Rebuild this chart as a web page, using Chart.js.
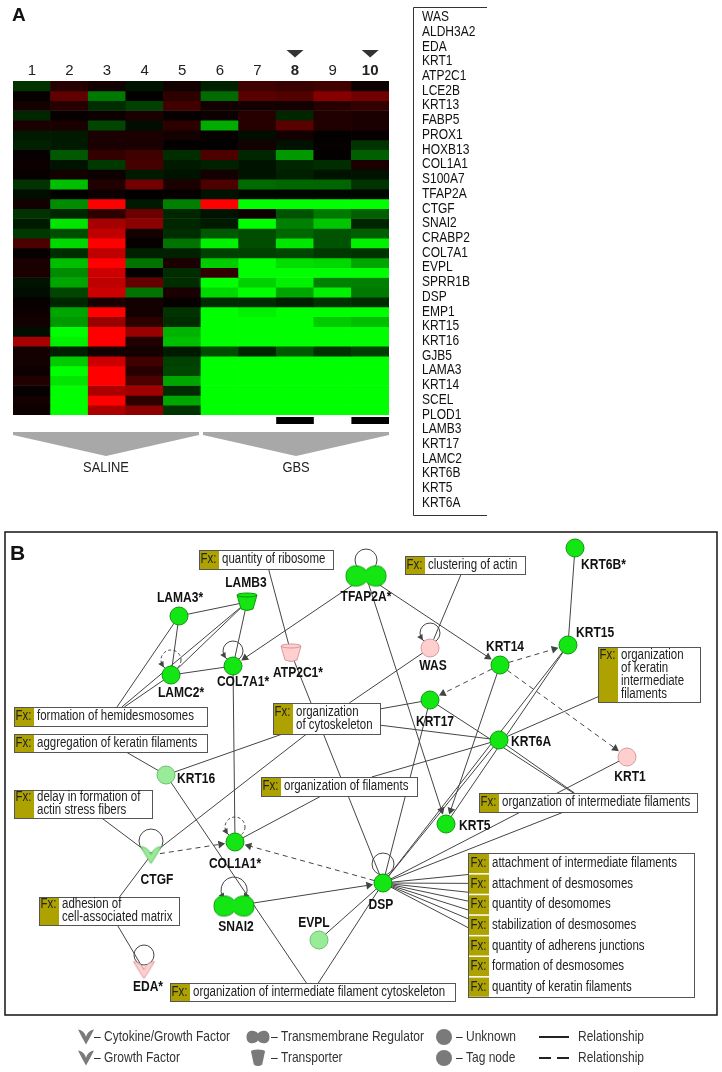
<!DOCTYPE html>
<html>
<head>
<meta charset="utf-8">
<script src="https://cdn.jsdelivr.net/npm/chart.js@4.4.1/dist/chart.umd.min.js"></script>
<style>
  html, body { margin: 0; padding: 0; background: #fff; }
  #wrap { position: relative; width: 722px; height: 1072px; overflow: hidden; }
  canvas { position: absolute; left: 0; }
  #heat { top: 0; width: 722px; height: 525px; }
  #net { top: 525px; width: 722px; height: 547px; }
</style>
</head>
<body>
<div id="wrap">
  <canvas id="heat" width="722" height="525"></canvas>
  <canvas id="net" width="722" height="547"></canvas>
</div>
<script>
// ---------- panel A data ----------
const genes = ['WAS', 'ALDH3A2', 'EDA', 'KRT1', 'ATP2C1', 'LCE2B', 'KRT13', 'FABP5', 'PROX1', 'HOXB13',
  'COL1A1', 'S100A7', 'TFAP2A', 'CTGF', 'SNAI2', 'CRABP2', 'COL7A1', 'EVPL', 'SPRR1B', 'DSP', 'EMP1',
  'KRT15', 'KRT16', 'GJB5', 'LAMA3', 'KRT14', 'SCEL', 'PLOD1', 'LAMB3', 'KRT17', 'LAMC2', 'KRT6B',
  'KRT5', 'KRT6A'];
const samples = ['1', '2', '3', '4', '5', '6', '7', '8', '9', '10'];
const markedSamples = ['8', '10'];
const groups = [['SALINE', 1, 5], ['GBS', 6, 10]];
// log ratio per gene (row) and sample (column); red > 0, green < 0
const expression = [
  [-0.4, 0.3, 0.15, -0.15, 0.15, -0.25, 0.5, 0.45, 0.5, 0.1],
  [0.05, 0.75, -0.95, 0.02, 0.35, -0.85, 0.7, 0.65, 1.05, 0.9],
  [0.15, 0.3, -0.35, -0.5, 0.5, 0.15, 0.15, 0.15, 0.3, 0.4],
  [-0.3, 0.05, 0.1, 0.2, 0.05, 0.1, 0.3, -0.3, 0.25, 0.2],
  [0.2, 0.2, -0.55, -0.1, 0.35, -1.35, 0.3, 0.7, 0.25, 0.2],
  [-0.2, -0.2, 0.2, 0.2, 0.15, 0.05, -0.1, 0.15, 0.02, 0.05],
  [-0.25, -0.2, 0.2, 0.2, 0.02, 0.02, 0.15, -0.15, 0.05, -0.4],
  [0.05, -0.7, 0.4, 0.5, -0.35, 0.6, -0.3, -1.2, 0.02, -0.75],
  [0.1, -0.15, -0.45, 0.55, -0.2, -0.25, -0.15, -0.3, -0.35, 0.2],
  [0.05, 0.15, 0.1, -0.2, -0.15, 0.15, -0.15, -0.25, -0.15, -0.15],
  [-0.4, -1.5, 0.25, 0.9, 0.2, 0.6, -0.85, -0.8, -0.8, -0.4],
  [-0.1, 0.02, 0.1, 0.02, 0.05, -0.15, -0.05, -0.05, -0.05, -0.05],
  [0.15, -1.1, 2.0, -0.2, -1.0, 2.0, -2.0, -2.0, -2.0, -2.0],
  [-0.4, -0.3, 0.35, 0.85, -0.3, -0.15, 0.1, -0.65, -0.95, -0.75],
  [-0.2, -1.8, 1.3, 1.1, -0.3, -0.2, -2.0, -1.0, -1.55, -0.3],
  [-0.45, -0.6, 1.5, 0.15, -0.35, -0.7, -0.6, -0.8, -0.65, -0.75],
  [0.6, -1.7, 2.0, 0.05, -0.9, -1.9, -0.6, -1.8, -0.65, -1.9],
  [0.05, -0.35, 1.5, -0.25, -0.25, -0.5, -0.5, -0.55, -0.45, -0.4],
  [0.2, -1.5, 2.0, -0.9, 0.2, -1.6, -2.0, -1.75, -1.7, -1.3],
  [0.2, -1.1, 1.6, 0.05, -0.35, 0.4, -2.0, -2.0, -2.0, -2.0],
  [-0.15, -1.3, 1.5, 0.8, -0.35, -2.0, -1.65, -1.9, -1.0, -1.0],
  [-0.1, -0.55, 1.6, -0.9, 0.2, -1.7, -2.0, -1.3, -1.9, -0.95],
  [0.05, -0.3, 0.2, 0.15, 0.05, -0.35, -0.35, -0.25, -0.4, -0.35],
  [0.1, -1.3, 2.0, 0.15, -0.4, -2.0, -1.9, -2.0, -2.0, -2.0],
  [0.15, -1.2, 1.2, 0.35, -0.35, -2.0, -2.0, -2.0, -1.6, -1.5],
  [-0.1, -2.0, 2.0, 1.2, -1.4, -2.0, -2.0, -2.0, -2.0, -2.0],
  [1.3, -1.9, 2.0, 0.25, -1.5, -2.0, -2.0, -2.0, -2.0, -2.0],
  [0.15, -0.25, 0.15, 0.15, -0.2, -0.6, -0.3, -0.7, -0.4, -0.5],
  [0.15, -1.6, 1.6, 0.5, -0.5, -2.0, -2.0, -2.0, -2.0, -2.0],
  [0.1, -2.0, 2.0, 0.3, -0.55, -2.0, -2.0, -2.0, -2.0, -2.0],
  [0.25, -1.8, 2.0, 0.6, -1.3, -2.0, -2.0, -2.0, -2.0, -2.0],
  [0.05, -2.0, 1.35, 1.25, -0.35, -2.0, -2.0, -2.0, -2.0, -2.0],
  [0.15, -2.0, 2.0, 0.35, -1.3, -2.0, -2.0, -2.0, -2.0, -2.0],
  [0.1, -2.0, 1.35, 1.1, -0.4, -2.0, -2.0, -2.0, -2.0, -2.0]
];

// ---------- panel B data ----------
// id, label, x, y, shape, tone
const nodes = [
  ['TFAP2A', 'TFAP2A*', 366, 576, 'membrane', 'green'],
  ['LAMB3', 'LAMB3', 247, 602, 'transporter', 'green'],
  ['LAMA3', 'LAMA3*', 179, 616, 'unknown', 'green'],
  ['KRT6B', 'KRT6B*', 575, 548, 'unknown', 'green'],
  ['KRT15', 'KRT15', 568, 645, 'unknown', 'green'],
  ['KRT14', 'KRT14', 500, 665, 'unknown', 'green'],
  ['WAS', 'WAS', 430, 648, 'unknown', 'pink'],
  ['ATP2C1', 'ATP2C1*', 291, 653, 'transporter', 'pink'],
  ['COL7A1', 'COL7A1*', 233, 666, 'unknown', 'green'],
  ['LAMC2', 'LAMC2*', 171, 675, 'unknown', 'green'],
  ['KRT17', 'KRT17', 430, 700, 'unknown', 'green'],
  ['KRT6A', 'KRT6A', 499, 740, 'unknown', 'green'],
  ['KRT1', 'KRT1', 627, 757, 'unknown', 'pink'],
  ['KRT16', 'KRT16', 166, 775, 'unknown', 'pale'],
  ['KRT5', 'KRT5', 446, 824, 'unknown', 'green'],
  ['COL1A1', 'COL1A1*', 235, 842, 'unknown', 'green'],
  ['CTGF', 'CTGF', 151, 855, 'growth', 'pale'],
  ['DSP', 'DSP', 383, 883, 'unknown', 'green'],
  ['SNAI2', 'SNAI2', 234, 906, 'membrane', 'green'],
  ['EVPL', 'EVPL', 319, 940, 'unknown', 'pale'],
  ['EDA', 'EDA*', 144, 970, 'growth', 'pink']
];
// id, text lines, x, y, w, h
const fxBoxes = [
  ['ribosome', ['quantity of ribosome'], 199, 550, 134, 19],
  ['actin', ['clustering of actin'], 405, 556, 120, 18],
  ['keratinIF', ['organization', 'of keratin', 'intermediate', 'filaments'], 598, 647, 102, 55],
  ['hemi', ['formation of hemidesmosomes'], 14, 707, 193, 19],
  ['cyto', ['organization', 'of cytoskeleton'], 273, 703, 107, 31],
  ['aggr', ['aggregation of keratin filaments'], 14, 734, 193, 18],
  ['filaments', ['organization of filaments'], 261, 777, 156, 19],
  ['intfil', ['organzation of intermediate filaments'], 479, 793, 218, 19],
  ['delay', ['delay in formation of', 'actin stress fibers'], 14, 790, 138, 28],
  ['adhesion', ['adhesion of', 'cell-associated matrix'], 39, 897, 140, 28],
  ['ifcyto', ['organization of intermediate filament cytoskeleton'], 170, 983, 285, 18]
];
const dspFunctions = ['attachment of intermediate filaments', 'attachment of desmosomes',
  'quantity of desomomes', 'stabilization of desmosomes', 'quantity of adherens junctions',
  'formation of desmosomes', 'quantity of keratin filaments'];
// from, to, dashed, arrow
const edges = [
  ['LAMA3', 'LAMB3'], ['LAMA3', 'LAMC2'], ['LAMA3', 'hemi'], ['LAMB3', 'LAMC2'], ['LAMB3', 'COL7A1'],
  ['LAMB3', 'hemi'], ['LAMC2', 'COL7A1'], ['LAMC2', 'hemi'], ['COL7A1', 'COL1A1'],
  ['TFAP2A', 'COL7A1', 0, 1], ['TFAP2A', 'KRT14', 0, 1], ['TFAP2A', 'KRT5', 0, 1],
  ['ATP2C1', 'ribosome'], ['ATP2C1', 'DSP'], ['WAS', 'actin'], ['WAS', 'cyto'],
  ['KRT14', 'KRT15', 1, 1], ['KRT14', 'KRT17', 1, 1], ['KRT14', 'KRT1', 1, 1], ['KRT14', 'KRT5', 0, 1],
  ['KRT6B', 'KRT15'], ['KRT15', 'KRT5'], ['KRT15', 'DSP'],
  ['KRT17', 'cyto'], ['KRT17', 'intfil'], ['KRT17', 'DSP'],
  ['KRT6A', 'cyto'], ['KRT6A', 'keratinIF'], ['KRT6A', 'filaments'], ['KRT6A', 'intfil'], ['KRT6A', 'DSP'],
  ['KRT1', 'DSP'], ['intfil', 'DSP'],
  ['KRT16', 'aggr'], ['KRT16', 'cyto'], ['KRT16', 'ifcyto'],
  ['CTGF', 'delay'], ['CTGF', 'cyto'], ['CTGF', 'adhesion'], ['EDA', 'adhesion'],
  ['CTGF', 'COL1A1', 1, 1], ['DSP', 'COL1A1', 1, 1], ['COL1A1', 'filaments'],
  ['SNAI2', 'DSP', 0, 1], ['EVPL', 'DSP'], ['DSP', 'ifcyto']
].concat(dspFunctions.map((f, i) => ['DSP', 'dsp' + i]));
// node, dashed, arrowheads
const loops = [['TFAP2A', 0, 0], ['WAS', 0, 1], ['COL7A1', 0, 1], ['LAMC2', 1, 1], ['COL1A1', 1, 1],
  ['CTGF', 0, 0], ['DSP', 0, 0], ['EDA', 0, 0], ['SNAI2', 0, 2]];
const legendItems = [
  ['growth', '– Cytokine/Growth Factor'], ['growth', '– Growth Factor'],
  ['membrane', '– Transmembrane Regulator'], ['transporter', '– Transporter'],
  ['unknown', '– Unknown'], ['unknown', '– Tag node'],
  ['solid', 'Relationship'], ['dashed', 'Relationship']
];

// ---------- styling / layout ----------
const F = "'Liberation Sans', Arial, sans-serif";
const EDGE = '#444';
const OLIVE = '#ada200';
const tones = {
  green: ['#14e614', '#0a9a0a'],
  pale: ['#98ec98', '#6cbf6c'],
  pink: ['#ffcece', '#d99a9a']
};
const shapeSize = { membrane: [40, 19], transporter: [20, 18], growth: [21, 17] };
const labelPos = {
  TFAP2A: [0, 21, 'center'], LAMB3: [-1, -19, 'center'], LAMA3: [1, -18, 'center'],
  KRT6B: [6, 17, 'left'], KRT15: [8, -12, 'left'], KRT14: [5, -18, 'center'], WAS: [3, 18, 'center'],
  ATP2C1: [7, 20, 'center'], COL7A1: [10, 16, 'center'], LAMC2: [10, 18, 'center'],
  KRT17: [5, 22, 'center'], KRT6A: [12, 2, 'left'], KRT1: [3, 20, 'center'], KRT16: [11, 4, 'left'],
  KRT5: [13, 2, 'left'], COL1A1: [0, 22, 'center'], CTGF: [6, 25, 'center'], DSP: [-2, 22, 'center'],
  SNAI2: [2, 21, 'center'], EVPL: [-5, -17, 'center'], EDA: [4, 17, 'center']
};
const loopLayout = { TFAP2A: [-16, 11], DSP: [-19, 11], SNAI2: [-16, 13], CTGF: [-14, 12] };

function heatColor(v) {
  const k = Math.min(255, Math.round(Math.abs(v) / 2 * 255));
  return v >= 0 ? `rgb(${k},0,0)` : `rgb(0,${k},0)`;
}

// condensed text (the figure uses a narrow face)
function narrowText(ctx, text, x, y, o) {
  o = o || {};
  ctx.save();
  ctx.font = `${o.weight || 'normal'} ${o.size || 14}px ${F}`;
  ctx.fillStyle = o.color || '#222';
  ctx.textBaseline = 'middle';
  ctx.textAlign = 'left';
  const sx = o.sx || 0.82;
  const w = ctx.measureText(text).width * sx;
  let x0 = x;
  if (o.align === 'center') x0 = x - w / 2;
  else if (o.align === 'right') x0 = x - w;
  ctx.translate(x0, y);
  ctx.scale(sx, 1);
  ctx.fillText(text, 0, 0);
  ctx.restore();
}

function shapePath(ctx, shape, cx, cy, w, h) {
  ctx.beginPath();
  if (shape === 'membrane') {
    ctx.moveTo(cx, cy - h * 0.3);
    ctx.bezierCurveTo(cx + w * 0.12, cy - h * 0.62, cx + w * 0.5, cy - h * 0.68, cx + w * 0.5, cy);
    ctx.bezierCurveTo(cx + w * 0.5, cy + h * 0.68, cx + w * 0.12, cy + h * 0.62, cx, cy + h * 0.3);
    ctx.bezierCurveTo(cx - w * 0.12, cy + h * 0.62, cx - w * 0.5, cy + h * 0.68, cx - w * 0.5, cy);
    ctx.bezierCurveTo(cx - w * 0.5, cy - h * 0.68, cx - w * 0.12, cy - h * 0.62, cx, cy - h * 0.3);
  } else if (shape === 'transporter') {
    const t = cy - h / 2, b = cy + h / 2;
    ctx.moveTo(cx - w / 2, t + 2);
    ctx.lineTo(cx + w / 2, t + 2);
    ctx.lineTo(cx + w * 0.3, b - 2);
    ctx.quadraticCurveTo(cx, b + 1, cx - w * 0.3, b - 2);
  } else if (shape === 'growth') {
    ctx.moveTo(cx - w / 2, cy - h / 2);
    ctx.quadraticCurveTo(cx - w * 0.12, cy - h * 0.45, cx, cy - h * 0.02);
    ctx.quadraticCurveTo(cx + w * 0.12, cy - h * 0.45, cx + w / 2, cy - h / 2);
    ctx.quadraticCurveTo(cx + w * 0.22, cy + h * 0.1, cx, cy + h / 2);
    ctx.quadraticCurveTo(cx - w * 0.22, cy + h * 0.1, cx - w / 2, cy - h / 2);
  } else {
    ctx.arc(cx, cy, w / 2, 0, Math.PI * 2);
  }
  ctx.closePath();
}

function drawShape(ctx, shape, cx, cy, w, h, fill, stroke) {
  ctx.save();
  ctx.fillStyle = fill;
  ctx.strokeStyle = stroke;
  ctx.lineWidth = 1;
  shapePath(ctx, shape, cx, cy, w, h);
  ctx.fill();
  if (stroke) ctx.stroke();
  if (shape === 'transporter') {
    ctx.beginPath();
    ctx.ellipse(cx, cy - h / 2 + 2, w / 2, 2, 0, 0, Math.PI * 2);
    ctx.fill();
    if (stroke) ctx.stroke();
  }
  ctx.restore();
}

function iconCanvas(shape, tone) {
  const [w, h] = shapeSize[shape];
  const c = document.createElement('canvas');
  c.width = w + 4; c.height = h + 4;
  drawShape(c.getContext('2d'), shape, c.width / 2, c.height / 2, w, h, tones[tone][0], tones[tone][1]);
  return c;
}

function loopCanvas(r, dashed, arrows) {
  const s = 2 * r + 12, m = s / 2;
  const c = document.createElement('canvas');
  c.width = c.height = s;
  const g = c.getContext('2d');
  g.strokeStyle = EDGE; g.fillStyle = EDGE; g.lineWidth = 1;
  if (dashed) g.setLineDash([3, 2.5]);
  g.beginPath();
  if (arrows === 2) g.arc(m, m, r, Math.PI * 5 / 6, Math.PI / 6);
  else g.arc(m, m, r, 0, Math.PI * 2);
  g.stroke();
  g.setLineDash([]);
  const heads = arrows === 2 ? [150, 30] : arrows === 1 ? [150] : [];
  heads.forEach(deg => {
    const t = deg * Math.PI / 180;
    const px = m + r * Math.cos(t), py = m + r * Math.sin(t);
    const d = deg > 90 ? [Math.sin(t), -Math.cos(t)] : [-Math.sin(t), Math.cos(t)];
    const n = [-d[1], d[0]];
    g.beginPath();
    g.moveTo(px + d[0] * 3, py + d[1] * 3);
    g.lineTo(px - d[0] * 3 + n[0] * 3, py - d[1] * 3 + n[1] * 3);
    g.lineTo(px - d[0] * 3 - n[0] * 3, py - d[1] * 3 - n[1] * 3);
    g.closePath();
    g.fill();
  });
  return c;
}

// ---------- panel A: heatmap ----------
const heatDecor = {
  id: 'heatDecor',
  afterDraw(chart) {
    const ctx = chart.ctx, xs = chart.scales.x, a = chart.chartArea;
    const colW = (a.right - a.left) / samples.length;
    ctx.save();
    ctx.font = `bold 19px ${F}`;
    ctx.fillStyle = '#111';
    ctx.textBaseline = 'middle';
    ctx.fillText('A', 12, 16);
    markedSamples.forEach(s => {
      const cx = xs.getPixelForValue(samples.indexOf(s));
      ctx.fillStyle = '#333';
      ctx.beginPath();
      ctx.moveTo(cx - 8.5, 50); ctx.lineTo(cx + 8.5, 50); ctx.lineTo(cx, 57.5);
      ctx.closePath(); ctx.fill();
      ctx.fillStyle = '#000';
      ctx.fillRect(cx - colW / 2, a.bottom + 2, colW, 7);
    });
    groups.forEach(([name, first, last]) => {
      const l = xs.getPixelForValue(first - 1) - colW / 2 + (first > 1 ? 2 : 0);
      const r = xs.getPixelForValue(last - 1) + colW / 2 - (last < samples.length ? 2 : 0);
      const mid = (l + r) / 2, top = a.bottom + 17;
      ctx.fillStyle = '#a8a8a8';
      ctx.beginPath();
      ctx.moveTo(l, top); ctx.lineTo(r, top); ctx.lineTo(r, top + 3);
      ctx.lineTo(mid, top + 24); ctx.lineTo(l, top + 3);
      ctx.closePath(); ctx.fill();
      narrowText(ctx, name, mid, a.bottom + 53, { align: 'center', size: 15, sx: 0.86, color: '#222' });
    });
    // gene list box
    ctx.strokeStyle = '#333';
    ctx.lineWidth = 1;
    ctx.beginPath();
    ctx.moveTo(487, 7.5); ctx.lineTo(413.5, 7.5); ctx.lineTo(413.5, 515.5); ctx.lineTo(487, 515.5);
    ctx.stroke();
    genes.forEach((g, i) => narrowText(ctx, g, 422, 17 + i * 14.72, { size: 15, sx: 0.8, color: '#111' }));
    ctx.restore();
  }
};

new Chart(document.getElementById('heat'), {
  type: 'bar',
  data: {
    labels: samples,
    datasets: genes.map((g, i) => ({
      label: g,
      data: samples.map(() => 1),
      backgroundColor: expression[i].map(heatColor),
      borderWidth: 0,
      barPercentage: 1,
      categoryPercentage: 1
    }))
  },
  options: {
    responsive: false,
    animation: false,
    events: [],
    layout: { autoPadding: false, padding: { top: 45, left: 13, right: 333, bottom: 110 } },
    plugins: { legend: { display: false }, tooltip: { enabled: false } },
    scales: {
      x: {
        stacked: true,
        position: 'top',
        grid: { display: false, drawTicks: false },
        border: { display: false },
        ticks: {
          padding: 1,
          color: '#222',
          font: c => ({ family: F, size: 15, weight: markedSamples.includes(samples[c.index]) ? 'bold' : 'normal' })
        },
        afterFit: s => { s.height = 36; }
      },
      y: { stacked: true, min: 0, max: genes.length, reverse: true, display: false }
    }
  },
  plugins: [heatDecor]
});

// ---------- panel B: network ----------
const nodeById = {};
nodes.forEach(n => { nodeById[n[0]] = { x: n[2], y: n[3] }; });
const rectById = {};
fxBoxes.forEach(b => { rectById[b[0]] = { x: b[2], y: b[3], w: b[4], h: b[5] }; });
const DSP_TOP = 853, DSP_ROW = 20.6, DSP_X = 468, DSP_W = 226;
dspFunctions.forEach((f, i) => { rectById['dsp' + i] = { x: DSP_X, y: DSP_TOP + i * DSP_ROW, w: DSP_W, h: DSP_ROW }; });

function centerOf(id) {
  if (nodeById[id]) return nodeById[id];
  const r = rectById[id];
  return { x: r.x + r.w / 2, y: r.y + r.h / 2 };
}
function clipToRect(p, r) {
  const c = { x: r.x + r.w / 2, y: r.y + r.h / 2 };
  const dx = c.x - p.x, dy = c.y - p.y;
  let t = 0;
  if (dx !== 0) t = Math.max(t, dx > 0 ? (r.x - p.x) / dx : (r.x + r.w - p.x) / dx);
  if (dy !== 0) t = Math.max(t, dy > 0 ? (r.y - p.y) / dy : (r.y + r.h - p.y) / dy);
  return { x: p.x + dx * t, y: p.y + dy * t };
}

const edgeSets = [];
const arrowPts = [], arrowRot = [];
edges.forEach(([from, to, dashed, arrow]) => {
  const a0 = centerOf(from), b0 = centerOf(to);
  let a = rectById[from] ? clipToRect(b0, rectById[from]) : a0;
  let b = rectById[to] ? clipToRect(a0, rectById[to]) : b0;
  if (arrow) {
    const len = Math.hypot(b.x - a.x, b.y - a.y);
    const d = { x: (b.x - a.x) / len, y: (b.y - a.y) / len };
    const tip = { x: b.x - d.x * 10, y: b.y - d.y * 10 };
    arrowPts.push({ x: tip.x - d.x * 4.5, y: tip.y - d.y * 4.5 });
    arrowRot.push(Math.atan2(d.x, -d.y) * 180 / Math.PI);
    b = { x: tip.x - d.x * 3, y: tip.y - d.y * 3 };
  }
  edgeSets.push({
    data: [a, b],
    showLine: true,
    borderColor: EDGE,
    borderWidth: 1,
    borderDash: dashed ? [5, 4] : [],
    pointRadius: 0,
    order: 10,
    clip: false
  });
});

const loopPts = loops.map(([id]) => {
  const n = nodeById[id], lay = loopLayout[id] || [-15, 10];
  return { x: n.x, y: n.y + lay[0] };
});
const loopStyles = loops.map(([id, dashed, arrows]) => loopCanvas((loopLayout[id] || [-15, 10])[1], dashed, arrows));

const netDecor = {
  id: 'netDecor',
  beforeDatasetDraw(chart, args) {
    if (chart.data.datasets[args.index].id !== 'loops') return;
    const ctx = chart.ctx, X = v => chart.scales.x.getPixelForValue(v), Y = v => chart.scales.y.getPixelForValue(v);
    ctx.save();
    const drawBox = (x, y, w, h, lines) => {
      ctx.fillStyle = '#fff';
      ctx.fillRect(X(x), Y(y), w, h);
      ctx.fillStyle = OLIVE;
      ctx.fillRect(X(x), Y(y), 20, h);
      ctx.strokeStyle = '#555';
      ctx.lineWidth = 1;
      ctx.strokeRect(Math.round(X(x)) + 0.5, Math.round(Y(y)) + 0.5, Math.round(w), Math.round(h));
      const n = lines.length;
      lines.forEach((t, i) => {
        const cy = Y(y) + h / 2 + (i - (n - 1) / 2) * 13;
        if (i === 0) narrowText(ctx, 'Fx:', X(x) + 1.5, cy, { size: 14, color: '#222' });
        narrowText(ctx, t, X(x) + 23, cy, { size: 14, color: '#222' });
      });
    };
    fxBoxes.forEach(b => drawBox(b[2], b[3], b[4], b[5], b[1]));
    // DSP function column
    const hAll = DSP_ROW * dspFunctions.length;
    ctx.fillStyle = '#fff';
    ctx.fillRect(X(DSP_X), Y(DSP_TOP), DSP_W, hAll);
    ctx.strokeStyle = '#555';
    ctx.strokeRect(X(DSP_X) + 0.5, Math.round(Y(DSP_TOP)) + 0.5, DSP_W, Math.round(hAll));
    dspFunctions.forEach((t, i) => {
      const top = Y(DSP_TOP + i * DSP_ROW);
      ctx.fillStyle = OLIVE;
      ctx.fillRect(X(DSP_X) + 1, top + 1, 20, DSP_ROW - 1.5);
      narrowText(ctx, 'Fx:', X(DSP_X) + 2.5, top + DSP_ROW / 2, { size: 14 });
      narrowText(ctx, t, X(DSP_X) + 24, top + DSP_ROW / 2, { size: 14 });
    });
    ctx.restore();
  },
  afterDatasetsDraw(chart) {
    const ctx = chart.ctx, X = v => chart.scales.x.getPixelForValue(v), Y = v => chart.scales.y.getPixelForValue(v);
    ctx.save();
    nodes.forEach(([id, label, x, y]) => {
      const [dx, dy, align] = labelPos[id];
      narrowText(ctx, label, X(x + dx), Y(y + dy), { weight: 'bold', size: 14, sx: 0.86, align, color: '#111' });
    });
    // panel frame and letter
    ctx.strokeStyle = '#222';
    ctx.lineWidth = 1.6;
    ctx.strokeRect(X(5), Y(532), 712, 483);
    ctx.font = `bold 21px ${F}`;
    ctx.fillStyle = '#111';
    ctx.textBaseline = 'middle';
    ctx.fillText('B', X(10), Y(554));
    // legend
    const colX = [86, 258, 444, 554], textX = [94, 271, 456, 578], rowY = [1037, 1058];
    const grey = '#7a7a7a';
    legendItems.forEach(([kind, text], i) => {
      const col = Math.floor(i / 2), row = i % 2;
      const cx = X(colX[col]), cy = Y(rowY[row]);
      if (kind === 'growth') drawShape(ctx, 'growth', cx, cy, 16, 15, grey);
      else if (kind === 'membrane') drawShape(ctx, 'membrane', cx, cy, 23, 12, grey);
      else if (kind === 'transporter') drawShape(ctx, 'transporter', cx, cy, 14, 17, grey);
      else if (kind === 'unknown') drawShape(ctx, 'unknown', cx, cy, 16, 16, grey);
      else {
        ctx.strokeStyle = '#222';
        ctx.lineWidth = 2;
        ctx.setLineDash(kind === 'dashed' ? [12, 6] : []);
        ctx.beginPath(); ctx.moveTo(cx - 15, cy); ctx.lineTo(cx + 15, cy); ctx.stroke();
        ctx.setLineDash([]);
      }
      narrowText(ctx, text, X(textX[col]), cy, { size: 15, sx: 0.8, color: '#333' });
    });
    ctx.restore();
  }
};

new Chart(document.getElementById('net'), {
  type: 'scatter',
  data: {
    datasets: edgeSets.concat([
      {
        id: 'loops',
        data: loopPts,
        pointStyle: loopStyles,
        pointRadius: 10,
        order: 4,
        clip: false
      },
      {
        data: arrowPts,
        pointStyle: 'triangle',
        pointRadius: 4.5,
        pointRotation: arrowRot,
        pointBackgroundColor: EDGE,
        pointBorderWidth: 0,
        order: 3,
        clip: false
      },
      {
        data: nodes.map(n => ({ x: n[2], y: n[3] })),
        pointStyle: nodes.map(n => n[4] === 'unknown' ? 'circle' : iconCanvas(n[4], n[5])),
        pointRadius: 9,
        pointBackgroundColor: nodes.map(n => tones[n[5]][0]),
        pointBorderColor: nodes.map(n => tones[n[5]][1]),
        pointBorderWidth: 1,
        order: 1,
        clip: false
      }
    ])
  },
  options: {
    responsive: false,
    animation: false,
    events: [],
    layout: { autoPadding: false, padding: 0 },
    plugins: { legend: { display: false }, tooltip: { enabled: false } },
    scales: {
      x: { type: 'linear', min: 0, max: 722, display: false },
      y: { type: 'linear', min: 525, max: 1072, reverse: true, display: false }
    }
  },
  plugins: [netDecor]
});
</script>
</body>
</html>
